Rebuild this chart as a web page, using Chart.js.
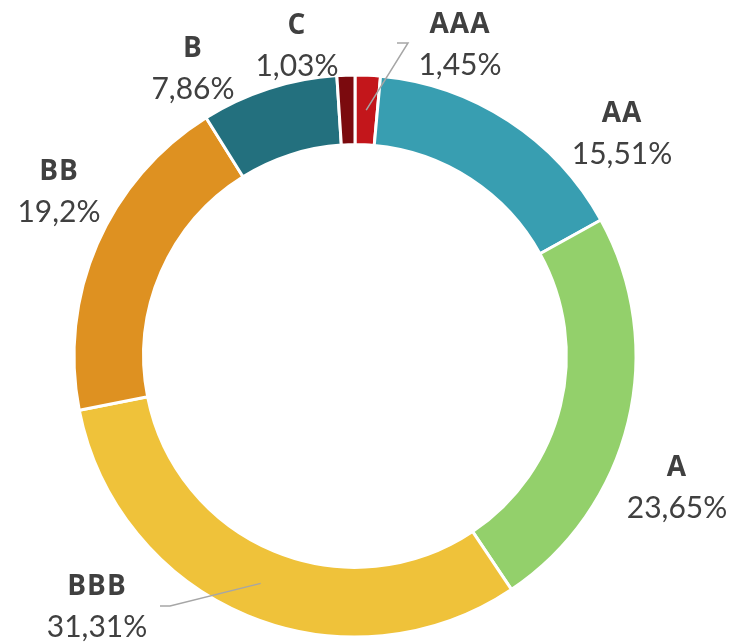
<!DOCTYPE html>
<html>
<head>
<meta charset="utf-8">
<script src="https://cdn.jsdelivr.net/npm/chart.js@4"></script>
<style>
  html, body { margin: 0; padding: 0; background: #fff; }
  #wrap { width: 738px; height: 642px; }
</style>
</head>
<body>
<div id="wrap"><canvas id="myChart" width="738" height="642"></canvas></div>
<script>
// rating categories and their share (%)
var categories = ['AAA', 'AA', 'A', 'BBB', 'BB', 'B', 'C'];
var shares = [1.45, 15.51, 23.65, 31.31, 19.2, 7.86, 1.03];
var valueLabels = ['1,45%', '15,51%', '23,65%', '31,31%', '19,2%', '7,86%', '1,03%'];

var sliceColors = ['#C3161B', '#389EB1', '#93D06B', '#EFC23A', '#DE9121', '#23707E', '#7B0A0E'];

// where each label sits, relative to the doughnut centre
var labelOffsets = [
  [105, -331], [267, -242], [322, 112], [-258, 231], [-296, -184], [-162, -307], [-58, -330]
];
// leader lines: elbow point and end point, relative to centre (null = none)
var leaderLines = [
  [[53, -313], [42, -313]], null, null, [[-185, 250], [-195, 250]], null, null, null
];

var textColor = '#404040';

var labelPlugin = {
  id: 'ringLabels',
  afterDatasetsDraw: function(chart) {
    var ctx = chart.ctx;
    var meta = chart.getDatasetMeta(0);
    var cx = (chart.chartArea.left + chart.chartArea.right) / 2;
    var cy = (chart.chartArea.top + chart.chartArea.bottom) / 2;
    ctx.save();
    meta.data.forEach(function(arc, i) {
      var line = leaderLines[i];
      if (line) {
        var p = arc.getCenterPoint();
        ctx.beginPath();
        ctx.moveTo(p.x, p.y);
        ctx.lineTo(cx + line[0][0], cy + line[0][1]);
        ctx.lineTo(cx + line[1][0], cy + line[1][1]);
        ctx.strokeStyle = '#A6A6A6';
        ctx.lineWidth = 1.5;
        ctx.stroke();
      }
      var x = cx + labelOffsets[i][0];
      var y = cy + labelOffsets[i][1];
      ctx.fillStyle = textColor;
      ctx.textAlign = 'center';
      ctx.textBaseline = 'middle';
      ctx.font = 'bold 28px "Open Sans"';
      ctx.letterSpacing = '1px';
      ctx.fillText(categories[i], x, y);
      ctx.font = '30px Lato';
      ctx.letterSpacing = '0px';
      ctx.fillText(valueLabels[i], x, y + 40);
    });
    ctx.restore();
  }
};

var ctx = document.getElementById('myChart');
var chart = new Chart(ctx, {
  type: 'doughnut',
  data: {
    labels: categories,
    datasets: [{
      data: shares,
      backgroundColor: sliceColors,
      borderColor: '#ffffff',
      borderWidth: 3
    }]
  },
  options: {
    responsive: false,
    animation: false,
    radius: 281,
    cutout: 214,
    layout: { padding: { left: 0, right: 28, top: 70, bottom: 0 } },
    plugins: {
      legend: { display: false },
      tooltip: { enabled: false }
    }
  },
  plugins: [labelPlugin]
});
</script>
</body>
</html>
